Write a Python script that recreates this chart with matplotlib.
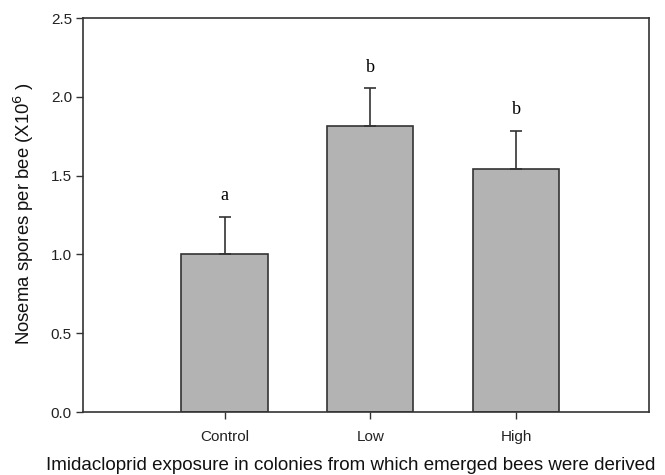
import matplotlib
matplotlib.use('Agg')
import matplotlib.pyplot as plt

groups = ['Control', 'Low', 'High']
means = [1.00, 1.815, 1.545]
errors = [0.24, 0.24, 0.24]
letters = ['a', 'b', 'b']

plt.rcParams['font.family'] = ['Liberation Sans', 'DejaVu Sans']

fig = plt.figure(figsize=(6.65, 4.75), dpi=100)
ax = fig.add_axes([0.1248, 0.1326, 0.8512, 0.8294])

x = [1, 2, 3]
ax.bar(x, means, width=0.59, color='#b3b3b3', edgecolor='#333333', linewidth=1.2, zorder=2)
ax.errorbar(x, means, yerr=[[0, 0, 0], errors], fmt='none', ecolor='#333333',
            elinewidth=1.2, capsize=4, capthick=1.2, zorder=3)
for xi, m, e, lab in zip(x, means, errors, letters):
    ax.text(xi, m + e + 0.08, lab, ha='center', va='bottom', fontsize=13,
            family=['Liberation Serif', 'DejaVu Serif'])

ax.set_xlim(0.03, 3.91)
ax.set_ylim(0, 2.5)
ax.set_xticks(x)
ax.set_xticklabels(groups, fontsize=11)
ax.set_yticks([0, 0.5, 1.0, 1.5, 2.0, 2.5])
ax.set_yticklabels(['0.0', '0.5', '1.0', '1.5', '2.0', '2.5'], fontsize=11)
ax.tick_params(direction='out', length=5, width=1, colors='#333333', labelcolor='#222222')
ax.tick_params(axis='x', pad=8)
ax.tick_params(axis='y', pad=3)
for s in ax.spines.values():
    s.set_linewidth(1.2)
    s.set_color('#333333')

fig.text(0.528, 0.019, 'Imidacloprid exposure in colonies from which emerged bees were derived',
         ha='center', va='center', fontsize=13.5, color='#111111')
fig.text(0.036, 0.55, 'Nosema spores per bee (X10$^6$ )', ha='center', va='center',
         rotation=90, fontsize=13.3, color='#111111')

fig.savefig('out.png', dpi=100)
